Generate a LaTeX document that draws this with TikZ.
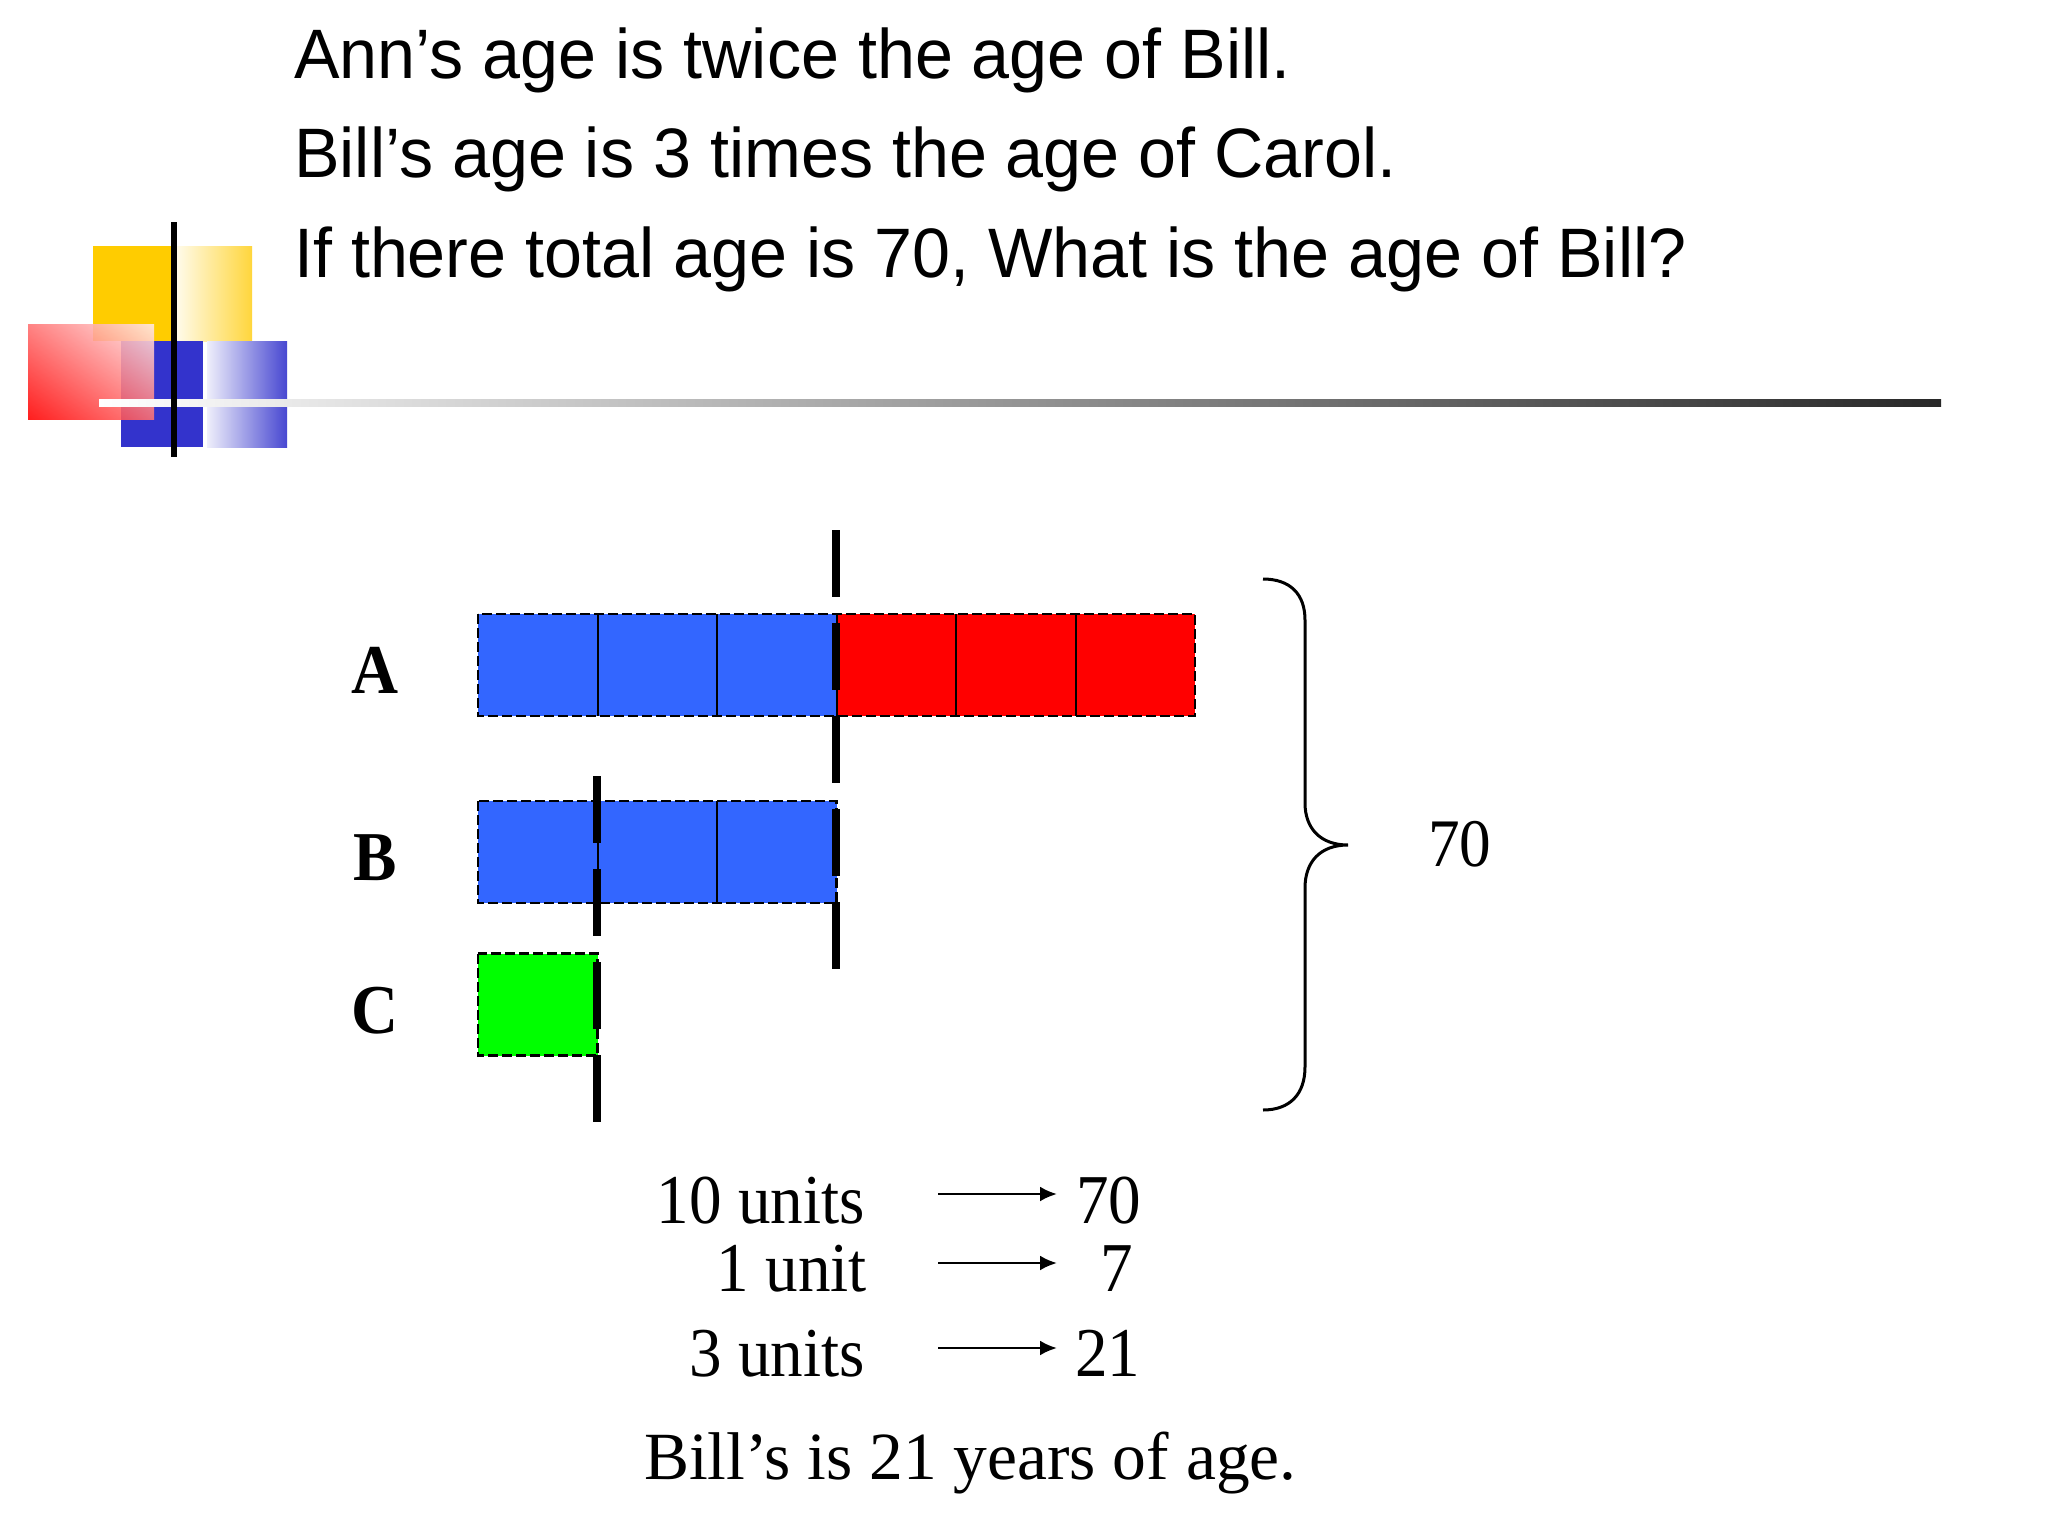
\documentclass[tikz,border=0pt]{standalone}
\usepackage{fontspec}
\usetikzlibrary{arrows.meta,shadings}
\newfontfamily\headfont[FakeStretch=0.975]{Liberation Sans}
\newfontfamily\bodyfont[FakeStretch=0.93]{Liberation Serif}
\newfontfamily\plainserif{Liberation Serif}
\definecolor{barblue}{RGB}{51,102,255}
\definecolor{bargreen}{RGB}{0,255,0}
\definecolor{logoyellow}{RGB}{255,204,0}
\definecolor{logoyellowB}{RGB}{255,214,60}
\definecolor{logoblue}{RGB}{51,51,204}
\definecolor{rulegray}{RGB}{40,40,40}
\begin{document}
\begin{tikzpicture}[x=1pt,y=-1pt,
  head/.style={anchor=base west, inner sep=0pt, font=\headfont\fontsize{70}{80}\selectfont},
  body/.style={inner sep=0pt, font=\bodyfont\fontsize{70}{80}\selectfont},
  lbl/.style={inner sep=0pt, font=\bodyfont\bfseries\fontsize{70}{80}\selectfont},
  cell/.style={draw=none, inner sep=0pt, outer sep=0pt, minimum width=119.5pt, minimum height=102pt},
  outline/.style={draw=black, line width=2.2pt, dash pattern=on 10pt off 4pt},
  divider/.style={draw=black, line width=2pt},
  marker/.style={draw=black, line width=8pt, dash pattern=on 67pt off 26pt},
  arr/.style={line width=2.7pt, -{Latex[length=17pt,width=15pt]}},
]
\useasboundingbox (0,0) rectangle (2048,1536);
\fill[white] (0,0) rectangle (2048,1536);

% ---- logo ----
\fill[logoyellow] (93,246) rectangle (174,341);
\shade[left color=logoyellow!6, right color=logoyellowB] (174,246) rectangle (252,341);
\fill[logoblue] (121,341) rectangle (203,447);
\shade[left color=logoblue!8, right color=logoblue!90] (207,341) rectangle (287,447);
\shade[lower left=red, upper right=red!8, upper left=red!55, lower right=red!55, opacity=0.88] (28,324) rectangle (154,419);
\shade[left color=white, right color=rulegray] (99,399) rectangle (1941,406);
\fill[black] (171,222) rectangle (177,457);

% ---- header text ----
\node[head] (l1) at (294,79) {Ann’s age is twice the age of Bill.};
\node[head] (l2) at (294,178) {Bill’s age is 3 times the age of Carol.};
\node[head] (l3) at (294,277) {If there total age is 70, What is the age of Bill?};

% ---- bars ----
\foreach \i/\x in {1/537.75,2/657.25,3/776.75}
  \node[cell, fill=barblue] (a\i) at (\x,665) {};
\foreach \i/\x in {4/896.25,5/1015.75,6/1135.25}
  \node[cell, fill=red] (a\i) at (\x,665) {};
\foreach \i/\x in {1/537.75,2/657.25,3/776.75}
  \node[cell, fill=barblue] (b\i) at (\x,852) {};
\node[cell, fill=bargreen] (c1) at (537.75,1004.5) {};

\foreach \i in {1,...,5} \draw[divider] (a\i.north east) -- (a\i.south east);
\foreach \i in {1,2} \draw[divider] (b\i.north east) -- (b\i.south east);
\draw[outline] (a1.north west) rectangle (a6.south east);
\draw[outline] (b1.north west) rectangle (b3.south east);
\draw[outline] (c1.north west) rectangle (c1.south east);

\draw[marker] (836,530) -- (836,970);
\draw[marker] (597,776) -- (597,1123);

% ---- labels ----
\node[lbl] (la) at (375,670) {A};
\node[lbl] (lb) at (375,858) {B};
\node[lbl] (lc) at (375,1011) {C};

% ---- brace ----
\draw[line width=3pt] (1263,579) .. controls (1290,579) and (1305,594) .. (1305,620)
  -- (1305,803) .. controls (1305,828) and (1320,845) .. (1348,845)
  .. controls (1320,845) and (1305,862) .. (1305,888)
  -- (1305,1067) .. controls (1305,1094) and (1290,1110) .. (1263,1110);
\node[body, anchor=base west, font=\bodyfont\fontsize{68}{80}\selectfont] (total) at (1428,866) {70};

% ---- computation ----
\node[body, anchor=base east] (u10) at (865,1223) {10 units};
\node[body, anchor=base east] (u1) at (867,1291) {1 unit};
\node[body, anchor=base east] (u3) at (865,1376) {3 units};
\node[body, anchor=base west] (v70) at (1076,1223) {70};
\node[body, anchor=base west] (v7) at (1100,1291) {7};
\node[body, anchor=base west] (v21) at (1075,1376) {21};
\draw[arr] ([shift={(73,-29)}]u10.base east) -- ([shift={(-19,-29)}]v70.base west);
\draw[arr] ([shift={(71,-28)}]u1.base east) -- ([shift={(-43,-28)}]v7.base west);
\draw[arr] ([shift={(73,-28)}]u3.base east) -- ([shift={(-18,-28)}]v21.base west);
\node[body, anchor=base west, font=\plainserif\fontsize{67.5}{80}\selectfont] (ans) at (644,1479) {Bill’s is 21 years of age.};
\end{tikzpicture}
\end{document}
